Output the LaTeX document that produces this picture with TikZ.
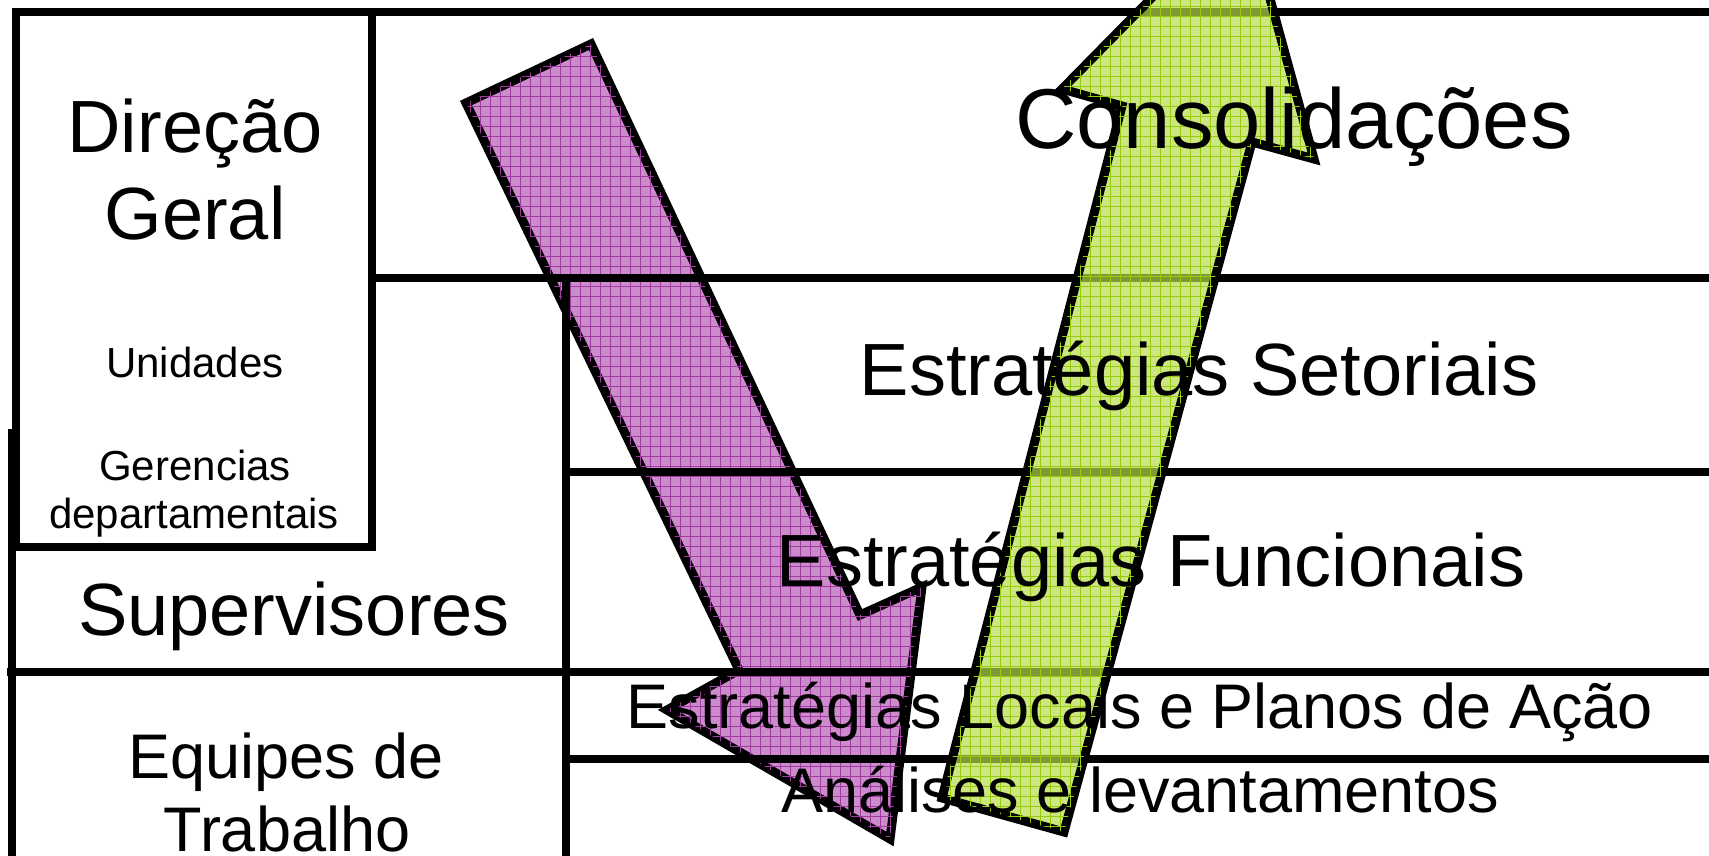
\documentclass[tikz,border=0pt]{standalone}
\usepackage{fontspec}
\setmainfont{Liberation Sans}
\usepackage{tikz}
\usetikzlibrary{patterns.meta}
\definecolor{purplefill}{RGB}{204,140,204}
\definecolor{purplegrid}{RGB}{160,60,160}
\definecolor{greenfill}{RGB}{184,219,76}
\definecolor{greengrid}{RGB}{150,205,10}
\tikzstyle{frame}     = [line width=8pt, line cap=rect]
\tikzstyle{downarrow} = [line width=9pt, line join=miter, fill=purplefill,
                         postaction={pattern={Hatch[angle=0,distance=10pt,line width=0.7pt]}, pattern color=purplegrid}]
\tikzstyle{uparrow}   = [line width=9pt, line join=miter, fill=greenfill, fill opacity=0.7,
                         postaction={pattern={Hatch[angle=0,distance=10pt,line width=0.7pt]}, pattern color=greengrid}]
\tikzstyle{biglabel}  = [anchor=base, inner sep=0pt, font=\fontsize{74}{87}\selectfont]
\tikzstyle{midlabel}  = [anchor=base, inner sep=0pt, font=\fontsize{63}{76}\selectfont]
\tikzstyle{smalllabel}= [anchor=base, inner sep=0pt, font=\fontsize{42}{49}\selectfont]
\tikzset{every node/.style={align=center}}

\begin{document}
\begin{tikzpicture}[x=1pt, y=-1pt]
    \useasboundingbox (0,0) rectangle (1709,856);
    \clip (0,0) rectangle (1709,856);

    % top-down arrow, under the grid
    \draw[downarrow] (466,103) -- (591,44) -- (860,615) -- (922,587) -- (890,839) -- (667,710) -- (739,670) -- cycle;

    % grid of levels
    \draw[frame] (16,12) -- (1720,12);
    \draw[frame] (16,12) -- (16,547) -- (372,547) -- (372,12);
    \draw[frame] (372,278) -- (1720,278);
    \draw[frame] (566,282) -- (566,870);
    \draw[frame] (566,472) -- (1720,472);
    \draw[frame] (11,672) -- (1720,672);
    \draw[frame] (566,759) -- (1720,759);
    \draw[frame] (12,433) -- (12,870);

    % bottom-up arrow, over the grid
    \draw[uparrow] (942,798) -- (1064,832) -- (1252,142) -- (1314,159) -- (1244,-96) -- (1062,89) -- (1122,106) -- cycle;

    % left column
    \node[biglabel]   (dir)   at (195,153) {Direção};
    \node[biglabel]   (geral) at (195,240) {Geral};
    \node[smalllabel] (unid)  at (195,377) {Unidades};
    \node[smalllabel] (ger)   at (195,480) {Gerencias};
    \node[smalllabel] (dep)   at (194,528) {departamentais};
    \node[biglabel]   (sup)   at (294,635) {Supervisores};
    \node[midlabel]   (equip) at (286,778) {Equipes de};
    \node[midlabel]   (trab)  at (287,851) {Trabalho};

    % right column
    \node[biglabel, font=\fontsize{85}{100}\selectfont] (cons) at (1294,149) {Consolidações};
    \node[biglabel]   (setor) at (1199,395) {Estratégias Setoriais};
    \node[biglabel]   (func)  at (1151,586) {Estratégias Funcionais};
    \node[midlabel]   (local) at (1140,728) {Estratégias Locais e Planos de Ação};
    \node[midlabel]   (anal)  at (1140,812) {Análises e levantamentos};
\end{tikzpicture}
\end{document}
